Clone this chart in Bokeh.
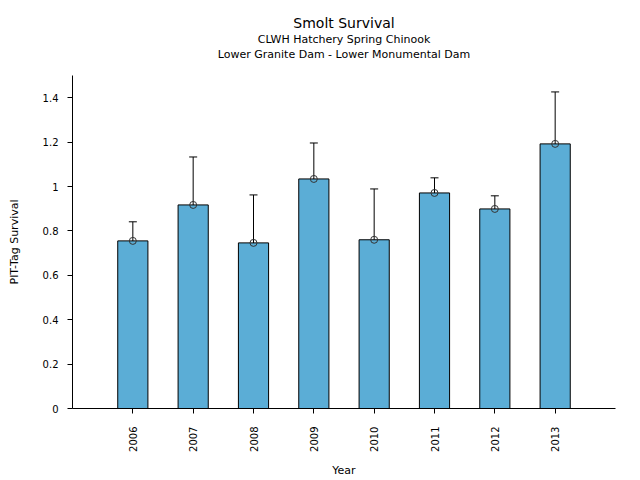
from bokeh.plotting import figure
from bokeh.models import ColumnDataSource, Whisker, FactorRange, FixedTicker, Title, Range1d
from bokeh.embed import file_html
from bokeh.resources import INLINE
import math

years = ["2006", "2007", "2008", "2009", "2010", "2011", "2012", "2013"]
survival = [0.755, 0.917, 0.746, 1.034, 0.760, 0.971, 0.899, 1.192]
upper = [0.841, 1.133, 0.962, 1.196, 0.989, 1.039, 0.958, 1.426]
lower = [0.665, 0.706, 0.525, 0.868, 0.525, 0.908, 0.836, 0.962]
y_ticks = [0, 0.2, 0.4, 0.6, 0.8, 1.0, 1.2, 1.4]
y_tick_labels = ["0", "0.2", "0.4", "0.6", "0.8", "1", "1.2", "1.4"]

FONT = "DejaVu Sans"

src = ColumnDataSource(dict(year=years, surv=survival, up=upper, lo=lower))

p = figure(width=640, height=480, output_backend="svg", toolbar_location=None,
           x_range=FactorRange(factors=years, range_padding=0.5, range_padding_units="absolute"),
           y_range=Range1d(0, 1.5),
           min_border_left=72, min_border_right=25, min_border_bottom=72, min_border_top=75)

p.title = Title(text="Smolt Survival", align="center",
                text_font=FONT, text_font_size="14px", text_font_style="normal",
                text_color="black", standoff=0, offset=0)
# spacer between the subtitles and the plot frame
p.add_layout(Title(text=" ", align="center", text_font=FONT, text_font_size="11px",
                   text_color="black", standoff=0), "above")
p.add_layout(Title(text="Lower Granite Dam - Lower Monumental Dam", align="center",
                   text_font=FONT, text_font_size="11px", text_font_style="normal",
                   text_color="black", standoff=0), "above")
p.add_layout(Title(text="CLWH Hatchery Spring Chinook", align="center",
                   text_font=FONT, text_font_size="11px", text_font_style="normal",
                   text_color="black", standoff=0), "above")

p.vbar(x="year", top="surv", width=0.5, source=src, fill_color="#5badd6",
       line_color="black", line_width=1)

w = Whisker(base="year", upper="up", lower="lo", source=src, line_color="black",
            line_width=1)
w.upper_head.size = 8
w.lower_head.size = 8
w.upper_head.line_color = "black"
w.lower_head.line_color = "black"
p.add_layout(w)

p.scatter(x="year", y="surv", source=src, marker="circle", size=7,
          fill_color=None, line_color="#333333", line_width=1)

p.xgrid.visible = False
p.ygrid.visible = False
p.outline_line_color = None
p.background_fill_color = "white"

p.yaxis.ticker = FixedTicker(ticks=y_ticks)
p.yaxis.major_label_overrides = {t: l for t, l in zip(y_ticks, y_tick_labels)}
p.xaxis.major_label_orientation = math.pi / 2

for ax in (p.xaxis, p.yaxis):
    ax.axis_line_color = "black"
    ax.major_tick_line_color = "black"
    ax.major_tick_out = 5
    ax.major_tick_in = 0
    ax.minor_tick_line_color = None
    ax.major_label_text_font = FONT
    ax.major_label_text_font_size = "10px"
    ax.major_label_text_color = "black"
    ax.axis_label_text_font = FONT
    ax.axis_label_text_font_size = "11px"
    ax.axis_label_text_font_style = "normal"
    ax.axis_label_text_color = "black"

p.xaxis.axis_label = "Year"
p.yaxis.axis_label = "PIT-Tag Survival"
p.xaxis.major_label_standoff = 13
p.yaxis.major_label_standoff = 9
p.xaxis.axis_label_standoff = 9
p.yaxis.axis_label_standoff = 19

open("out.html", "w").write(file_html(p, INLINE))
